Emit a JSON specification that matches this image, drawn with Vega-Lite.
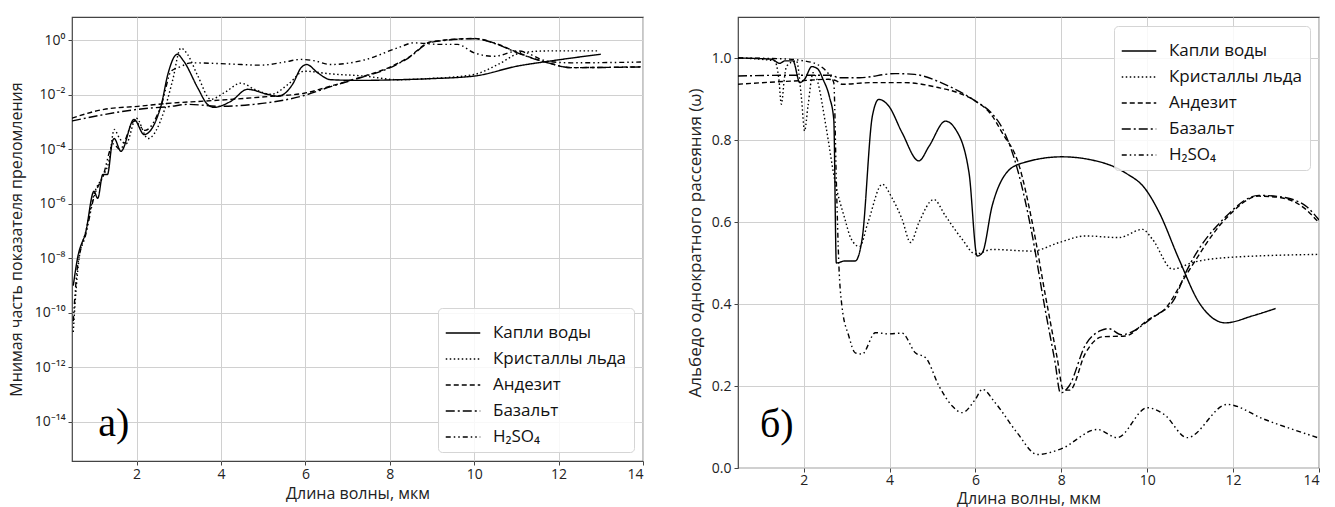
{
  "$schema": "https://vega.github.io/schema/vega-lite/v6.json",
  "padding": {"left": 7, "top": 11, "right": 5, "bottom": 0},
  "background": "white",
  "spacing": 40,
  "config": {
    "font": "Open Sans",
    "view": {"stroke": "#444", "strokeWidth": 1.2},
    "axis": {"grid": true, "gridColor": "#d0d0d0", "gridWidth": 1, "domain": false, "tickColor": "#444", "tickSize": 4, "labelFont": "Open Sans", "labelFontSize": 14, "labelColor": "#222", "titleFont": "Open Sans", "titleFontSize": 17, "titleFontWeight": "normal", "titleColor": "#222", "labelPadding": 3},
    "axisX": {"titlePadding": 4, "titleFontSize": 16, "labelPadding": 2},
    "legend": {"title": null, "symbolType": "stroke", "symbolStrokeColor": "black", "symbolStrokeWidth": 1.5, "symbolSize": 1190, "labelFont": "Open Sans", "labelFontSize": 17, "labelColor": "#111", "labelOffset": 12, "fillColor": "rgba(255,255,255,0.85)", "strokeColor": "#d5d5d5", "cornerRadius": 4, "padding": 7, "offset": 9, "rowPadding": -30}
  },
  "datasets": {
    "left": [
      {"s":"Капли воды","x":0.5,"y":1e-9},{"s":"Капли воды","x":0.6,"y":1e-8},{"s":"Капли воды","x":0.8,"y":1e-7},{"s":"Капли воды","x":0.99,"y":2.9e-6},{"s":"Капли воды","x":1.08,"y":1.6e-6},{"s":"Капли воды","x":1.2,"y":1.2e-5},{"s":"Капли воды","x":1.31,"y":1.2e-5},{"s":"Капли воды","x":1.43,"y":2.0e-4},{"s":"Капли воды","x":1.47,"y":2.5e-4},{"s":"Капли воды","x":1.63,"y":8.5e-5},{"s":"Капли воды","x":1.94,"y":1.26e-3},{"s":"Капли воды","x":2.18,"y":3.5e-4},{"s":"Капли воды","x":2.58,"y":4.0e-3},{"s":"Капли воды","x":2.74,"y":0.056},{"s":"Капли воды","x":2.9,"y":0.26},{"s":"Капли воды","x":2.96,"y":0.31},{"s":"Капли воды","x":3.12,"y":0.17},{"s":"Капли воды","x":3.45,"y":0.018},{"s":"Капли воды","x":3.68,"y":4.5e-3},{"s":"Капли воды","x":3.84,"y":3.5e-3},{"s":"Капли воды","x":4.24,"y":5.9e-3},{"s":"Капли воды","x":4.63,"y":0.016},{"s":"Капли воды","x":5.1,"y":0.0105},{"s":"Капли воды","x":5.35,"y":8.9e-3},{"s":"Капли воды","x":5.7,"y":0.025},{"s":"Капли воды","x":5.9,"y":0.1},{"s":"Капли воды","x":6.03,"y":0.13},{"s":"Капли воды","x":6.3,"y":0.063},{"s":"Капли воды","x":6.6,"y":0.036},{"s":"Капли воды","x":7.3,"y":0.034},{"s":"Капли воды","x":8.2,"y":0.036},{"s":"Капли воды","x":8.9,"y":0.039},{"s":"Капли воды","x":10.0,"y":0.049},{"s":"Капли воды","x":11.04,"y":0.115},{"s":"Капли воды","x":11.75,"y":0.17},{"s":"Капли воды","x":13.0,"y":0.31},
      {"s":"Кристаллы льда","x":0.5,"y":2e-11},{"s":"Кристаллы льда","x":0.55,"y":3.2e-10},{"s":"Кристаллы льда","x":0.63,"y":7.9e-9},{"s":"Кристаллы льда","x":0.8,"y":1e-7},{"s":"Кристаллы льда","x":1.0,"y":2.5e-6},{"s":"Кристаллы льда","x":1.2,"y":1e-5},{"s":"Кристаллы льда","x":1.35,"y":4e-5},{"s":"Кристаллы льда","x":1.47,"y":5.4e-4},{"s":"Кристаллы льда","x":1.6,"y":2.5e-4},{"s":"Кристаллы льда","x":1.75,"y":1.6e-4},{"s":"Кристаллы льда","x":1.99,"y":1.4e-3},{"s":"Кристаллы льда","x":2.27,"y":2.5e-4},{"s":"Кристаллы льда","x":2.65,"y":2.5e-3},{"s":"Кристаллы льда","x":2.85,"y":0.032},{"s":"Кристаллы льда","x":3.05,"y":0.52},{"s":"Кристаллы льда","x":3.2,"y":0.32},{"s":"Кристаллы льда","x":3.45,"y":0.05},{"s":"Кристаллы льда","x":3.76,"y":6.9e-3},{"s":"Кристаллы льда","x":4.1,"y":0.0126},{"s":"Кристаллы льда","x":4.47,"y":0.027},{"s":"Кристаллы льда","x":4.8,"y":0.016},{"s":"Кристаллы льда","x":5.19,"y":0.0105},{"s":"Кристаллы льда","x":5.6,"y":0.025},{"s":"Кристаллы льда","x":5.97,"y":0.074},{"s":"Кристаллы льда","x":6.6,"y":0.059},{"s":"Кристаллы льда","x":7.39,"y":0.049},{"s":"Кристаллы льда","x":8.2,"y":0.036},{"s":"Кристаллы льда","x":8.98,"y":0.04},{"s":"Кристаллы льда","x":10.0,"y":0.056},{"s":"Кристаллы льда","x":10.56,"y":0.13},{"s":"Кристаллы льда","x":11.11,"y":0.35},{"s":"Кристаллы льда","x":11.75,"y":0.41},{"s":"Кристаллы льда","x":12.93,"y":0.41},
      {"s":"Андезит","x":0.47,"y":1.4e-3},{"s":"Андезит","x":1.23,"y":2.95e-3},{"s":"Андезит","x":2.03,"y":3.8e-3},{"s":"Андезит","x":2.82,"y":5e-3},{"s":"Андезит","x":3.6,"y":5.9e-3},{"s":"Андезит","x":5.19,"y":8.9e-3},{"s":"Андезит","x":5.97,"y":0.0115},{"s":"Андезит","x":6.6,"y":0.021},{"s":"Андезит","x":7.39,"y":0.049},{"s":"Андезит","x":7.98,"y":0.1},{"s":"Андезит","x":8.43,"y":0.23},{"s":"Андезит","x":8.98,"y":0.89},{"s":"Андезит","x":10.0,"y":1.17},{"s":"Андезит","x":10.56,"y":0.72},{"s":"Андезит","x":11.04,"y":0.35},{"s":"Андезит","x":11.75,"y":0.15},{"s":"Андезит","x":12.3,"y":0.1},{"s":"Андезит","x":13.95,"y":0.107},
      {"s":"Базальт","x":0.47,"y":1.1e-3},{"s":"Базальт","x":1.23,"y":1.9e-3},{"s":"Базальт","x":2.03,"y":2.95e-3},{"s":"Базальт","x":2.82,"y":3.8e-3},{"s":"Базальт","x":3.22,"y":4.5e-3},{"s":"Базальт","x":4.0,"y":3.8e-3},{"s":"Базальт","x":4.78,"y":4.5e-3},{"s":"Базальт","x":5.97,"y":0.0095},{"s":"Базальт","x":6.6,"y":0.02},{"s":"Базальт","x":7.39,"y":0.047},{"s":"Базальт","x":7.98,"y":0.095},{"s":"Базальт","x":8.43,"y":0.22},{"s":"Базальт","x":8.98,"y":0.85},{"s":"Базальт","x":10.0,"y":1.15},{"s":"Базальт","x":10.56,"y":0.7},{"s":"Базальт","x":11.04,"y":0.34},{"s":"Базальт","x":11.75,"y":0.15},{"s":"Базальт","x":12.3,"y":0.1},{"s":"Базальт","x":13.95,"y":0.105},
      {"s":"H₂SO₄","x":0.5,"y":5e-11},{"s":"H₂SO₄","x":0.6,"y":5e-9},{"s":"H₂SO₄","x":0.8,"y":8e-8},{"s":"H₂SO₄","x":1.0,"y":2e-6},{"s":"H₂SO₄","x":1.2,"y":1e-5},{"s":"H₂SO₄","x":1.45,"y":1.6e-4},{"s":"H₂SO₄","x":1.6,"y":1e-4},{"s":"H₂SO₄","x":1.95,"y":1.1e-3},{"s":"H₂SO₄","x":2.2,"y":5e-4},{"s":"H₂SO₄","x":2.6,"y":5e-3},{"s":"H₂SO₄","x":2.82,"y":0.074},{"s":"H₂SO₄","x":3.05,"y":0.11},{"s":"H₂SO₄","x":3.29,"y":0.15},{"s":"H₂SO₄","x":4.24,"y":0.135},{"s":"H₂SO₄","x":4.95,"y":0.123},{"s":"H₂SO₄","x":5.5,"y":0.16},{"s":"H₂SO₄","x":5.9,"y":0.2},{"s":"H₂SO₄","x":6.2,"y":0.18},{"s":"H₂SO₄","x":6.6,"y":0.13},{"s":"H₂SO₄","x":7.39,"y":0.19},{"s":"H₂SO₄","x":8.2,"y":0.54},{"s":"H₂SO₄","x":8.57,"y":0.81},{"s":"H₂SO₄","x":9.22,"y":0.71},{"s":"H₂SO₄","x":9.6,"y":0.71},{"s":"H₂SO₄","x":10.0,"y":0.35},{"s":"H₂SO₄","x":10.47,"y":0.26},{"s":"H₂SO₄","x":11.04,"y":0.41},{"s":"H₂SO₄","x":11.75,"y":0.17},{"s":"H₂SO₄","x":12.3,"y":0.15},{"s":"H₂SO₄","x":13.95,"y":0.16}
    ],
    "right": [
      {"s":"Капли воды","x":0.47,"y":1.0},{"s":"Капли воды","x":1.25,"y":0.997},{"s":"Капли воды","x":1.44,"y":0.987},{"s":"Капли воды","x":1.56,"y":0.993},{"s":"Капли воды","x":1.75,"y":0.993},{"s":"Капли воды","x":1.91,"y":0.94},{"s":"Капли воды","x":2.02,"y":0.948},{"s":"Капли воды","x":2.19,"y":0.979},{"s":"Капли воды","x":2.33,"y":0.973},{"s":"Капли воды","x":2.45,"y":0.948},{"s":"Капли воды","x":2.6,"y":0.905},{"s":"Капли воды","x":2.7,"y":0.85},{"s":"Капли воды","x":2.76,"y":0.5},{"s":"Капли воды","x":2.96,"y":0.505},{"s":"Капли воды","x":3.2,"y":0.505},{"s":"Капли воды","x":3.36,"y":0.558},{"s":"Капли воды","x":3.6,"y":0.859},{"s":"Капли воды","x":3.75,"y":0.899},{"s":"Капли воды","x":3.98,"y":0.883},{"s":"Капли воды","x":4.29,"y":0.818},{"s":"Капли воды","x":4.68,"y":0.749},{"s":"Капли воды","x":4.92,"y":0.785},{"s":"Капли воды","x":5.3,"y":0.846},{"s":"Капли воды","x":5.53,"y":0.827},{"s":"Капли воды","x":5.85,"y":0.72},{"s":"Капли воды","x":6.04,"y":0.517},{"s":"Капли воды","x":6.16,"y":0.525},{"s":"Капли воды","x":6.39,"y":0.64},{"s":"Капли воды","x":6.62,"y":0.704},{"s":"Капли воды","x":7.01,"y":0.741},{"s":"Капли воды","x":8.02,"y":0.759},{"s":"Капли воды","x":8.72,"y":0.751},{"s":"Капли воды","x":9.49,"y":0.72},{"s":"Капли воды","x":9.96,"y":0.68},{"s":"Капли воды","x":10.28,"y":0.623},{"s":"Капли воды","x":10.74,"y":0.509},{"s":"Капли воды","x":11.21,"y":0.403},{"s":"Капли воды","x":11.82,"y":0.354},{"s":"Капли воды","x":12.45,"y":0.371},{"s":"Капли воды","x":12.99,"y":0.389},
      {"s":"Кристаллы льда","x":0.47,"y":1.0},{"s":"Кристаллы льда","x":1.32,"y":0.993},{"s":"Кристаллы льда","x":1.42,"y":0.95},{"s":"Кристаллы льда","x":1.48,"y":0.887},{"s":"Кристаллы льда","x":1.55,"y":0.95},{"s":"Кристаллы льда","x":1.6,"y":0.98},{"s":"Кристаллы льда","x":1.83,"y":0.993},{"s":"Кристаллы льда","x":1.95,"y":0.9},{"s":"Кристаллы льда","x":2.02,"y":0.822},{"s":"Кристаллы льда","x":2.1,"y":0.883},{"s":"Кристаллы льда","x":2.22,"y":0.964},{"s":"Кристаллы льда","x":2.3,"y":0.95},{"s":"Кристаллы льда","x":2.53,"y":0.826},{"s":"Кристаллы льда","x":2.72,"y":0.704},{"s":"Кристаллы льда","x":2.96,"y":0.607},{"s":"Кристаллы льда","x":3.1,"y":0.56},{"s":"Кристаллы льда","x":3.3,"y":0.54},{"s":"Кристаллы льда","x":3.5,"y":0.6},{"s":"Кристаллы льда","x":3.83,"y":0.692},{"s":"Кристаллы льда","x":4.05,"y":0.66},{"s":"Кристаллы льда","x":4.29,"y":0.607},{"s":"Кристаллы льда","x":4.49,"y":0.55},{"s":"Кристаллы льда","x":4.68,"y":0.598},{"s":"Кристаллы льда","x":5.03,"y":0.655},{"s":"Кристаллы льда","x":5.3,"y":0.615},{"s":"Кристаллы льда","x":5.69,"y":0.558},{"s":"Кристаллы льда","x":6.0,"y":0.522},{"s":"Кристаллы льда","x":6.39,"y":0.533},{"s":"Кристаллы льда","x":7.32,"y":0.529},{"s":"Кристаллы льда","x":7.95,"y":0.55},{"s":"Кристаллы льда","x":8.56,"y":0.566},{"s":"Кристаллы льда","x":9.34,"y":0.562},{"s":"Кристаллы льда","x":9.89,"y":0.582},{"s":"Кристаллы льда","x":10.12,"y":0.558},{"s":"Кристаллы льда","x":10.59,"y":0.485},{"s":"Кристаллы льда","x":11.05,"y":0.501},{"s":"Кристаллы льда","x":11.82,"y":0.513},{"s":"Кристаллы льда","x":14.0,"y":0.521},
      {"s":"Андезит","x":0.47,"y":0.936},{"s":"Андезит","x":1.4,"y":0.942},{"s":"Андезит","x":2.0,"y":0.945},{"s":"Андезит","x":2.57,"y":0.948},{"s":"Андезит","x":2.75,"y":0.945},{"s":"Андезит","x":2.9,"y":0.936},{"s":"Андезит","x":3.58,"y":0.94},{"s":"Андезит","x":4.35,"y":0.94},{"s":"Андезит","x":5.13,"y":0.928},{"s":"Андезит","x":5.6,"y":0.915},{"s":"Андезит","x":6.0,"y":0.895},{"s":"Андезит","x":6.38,"y":0.86},{"s":"Андезит","x":6.62,"y":0.818},{"s":"Андезит","x":7.01,"y":0.74},{"s":"Андезит","x":7.32,"y":0.6},{"s":"Андезит","x":7.63,"y":0.42},{"s":"Андезит","x":7.9,"y":0.27},{"s":"Андезит","x":8.05,"y":0.19},{"s":"Андезит","x":8.2,"y":0.19},{"s":"Андезит","x":8.56,"y":0.28},{"s":"Андезит","x":8.95,"y":0.32},{"s":"Андезит","x":9.49,"y":0.322},{"s":"Андезит","x":10.0,"y":0.36},{"s":"Андезит","x":10.43,"y":0.39},{"s":"Андезит","x":10.89,"y":0.468},{"s":"Андезит","x":11.82,"y":0.607},{"s":"Андезит","x":12.6,"y":0.663},{"s":"Андезит","x":13.07,"y":0.66},{"s":"Андезит","x":13.68,"y":0.632},{"s":"Андезит","x":14.0,"y":0.598},
      {"s":"Базальт","x":0.47,"y":0.956},{"s":"Базальт","x":1.64,"y":0.958},{"s":"Базальт","x":2.65,"y":0.958},{"s":"Базальт","x":2.8,"y":0.952},{"s":"Базальт","x":3.3,"y":0.952},{"s":"Базальт","x":4.13,"y":0.962},{"s":"Базальт","x":4.58,"y":0.96},{"s":"Базальт","x":5.3,"y":0.935},{"s":"Базальт","x":6.0,"y":0.895},{"s":"Базальт","x":6.38,"y":0.865},{"s":"Базальт","x":6.62,"y":0.83},{"s":"Базальт","x":7.0,"y":0.72},{"s":"Базальт","x":7.3,"y":0.58},{"s":"Базальт","x":7.6,"y":0.4},{"s":"Базальт","x":7.85,"y":0.26},{"s":"Базальт","x":7.98,"y":0.183},{"s":"Базальт","x":8.18,"y":0.2},{"s":"Базальт","x":8.56,"y":0.3},{"s":"Базальт","x":8.91,"y":0.335},{"s":"Базальт","x":9.1,"y":0.34},{"s":"Базальт","x":9.4,"y":0.325},{"s":"Базальт","x":10.16,"y":0.37},{"s":"Базальт","x":10.62,"y":0.41},{"s":"Базальт","x":10.89,"y":0.475},{"s":"Базальт","x":11.82,"y":0.612},{"s":"Базальт","x":12.6,"y":0.665},{"s":"Базальт","x":13.07,"y":0.662},{"s":"Базальт","x":13.68,"y":0.64},{"s":"Базальт","x":14.0,"y":0.605},
      {"s":"H₂SO₄","x":0.47,"y":1.0},{"s":"H₂SO₄","x":1.5,"y":0.998},{"s":"H₂SO₄","x":2.0,"y":0.993},{"s":"H₂SO₄","x":2.3,"y":0.985},{"s":"H₂SO₄","x":2.55,"y":0.965},{"s":"H₂SO₄","x":2.7,"y":0.94},{"s":"H₂SO₄","x":2.76,"y":0.7},{"s":"H₂SO₄","x":2.82,"y":0.493},{"s":"H₂SO₄","x":2.89,"y":0.395},{"s":"H₂SO₄","x":3.05,"y":0.322},{"s":"H₂SO₄","x":3.2,"y":0.281},{"s":"H₂SO₄","x":3.36,"y":0.278},{"s":"H₂SO₄","x":3.67,"y":0.33},{"s":"H₂SO₄","x":3.98,"y":0.327},{"s":"H₂SO₄","x":4.29,"y":0.329},{"s":"H₂SO₄","x":4.6,"y":0.281},{"s":"H₂SO₄","x":4.84,"y":0.269},{"s":"H₂SO₄","x":5.15,"y":0.2},{"s":"H₂SO₄","x":5.46,"y":0.151},{"s":"H₂SO₄","x":5.69,"y":0.135},{"s":"H₂SO₄","x":6.0,"y":0.168},{"s":"H₂SO₄","x":6.16,"y":0.192},{"s":"H₂SO₄","x":6.46,"y":0.159},{"s":"H₂SO₄","x":6.97,"y":0.086},{"s":"H₂SO₄","x":7.44,"y":0.033},{"s":"H₂SO₄","x":7.98,"y":0.046},{"s":"H₂SO₄","x":8.84,"y":0.094},{"s":"H₂SO₄","x":9.3,"y":0.074},{"s":"H₂SO₄","x":10.0,"y":0.147},{"s":"H₂SO₄","x":10.39,"y":0.131},{"s":"H₂SO₄","x":10.93,"y":0.074},{"s":"H₂SO₄","x":11.86,"y":0.155},{"s":"H₂SO₄","x":12.72,"y":0.119},{"s":"H₂SO₄","x":13.97,"y":0.074}
    ]
  },
  "hconcat": [
    {
      "width": 571,
      "height": 444,
      "title": {"text": " ", "fontSize": 1, "offset": 4},
      "layer": [
        {
          "data": {"name": "left"},
          "mark": {"type": "line", "interpolate": "monotone", "stroke": "black", "strokeWidth": 1.4, "clip": true},
          "encoding": {
            "x": {"field": "x", "type": "quantitative", "scale": {"domain": [0.47, 14], "nice": false, "zero": false}, "axis": {"values": [2, 4, 6, 8, 10, 12, 14], "format": "d", "title": "Длина волны, мкм"}},
            "y": {"field": "y", "type": "quantitative", "scale": {"type": "log", "domain": [3.7e-16, 7.2], "nice": false}, "axis": {"values": [1e-14, 1e-12, 1e-10, 1e-8, 1e-6, 1e-4, 1e-2, 1], "labelExpr": "round(log(datum.value)/LN10) == 0 ? '10⁰' : '10⁻' + replace(replace(replace(replace(replace(replace(toString(-round(log(datum.value)/LN10)),'1','¹'),'2','²'),'4','⁴'),'6','⁶'),'8','⁸'),'0','⁰')", "title": "Мнимая часть показателя преломления", "titleFontSize": 16, "titlePadding": 10}},
            "strokeDash": {"field": "s", "type": "nominal", "scale": {"domain": ["Капли воды", "Кристаллы льда", "Андезит", "Базальт", "H₂SO₄"], "range": [[1, 0], [1.5, 2.5], [5, 3], [9, 3, 2, 3], [5, 3, 1.5, 3, 1.5, 3]]}, "legend": {"orient": "bottom-right"}}
          }
        },
        {
          "data": {"values": [{"x": 1.09, "y": 8.5e-15, "t": "а)"}]},
          "mark": {"type": "text", "font": "Liberation Serif", "fontSize": 40, "align": "left", "baseline": "middle", "color": "black"},
          "encoding": {
            "x": {"field": "x", "type": "quantitative"},
            "y": {"field": "y", "type": "quantitative"},
            "text": {"field": "t"}
          }
        }
      ]
    },
    {
      "width": 581,
      "height": 451,
      "layer": [
        {
          "data": {"name": "right"},
          "mark": {"type": "line", "interpolate": "monotone", "stroke": "black", "strokeWidth": 1.4, "clip": true},
          "encoding": {
            "x": {"field": "x", "type": "quantitative", "scale": {"domain": [0.47, 14], "nice": false, "zero": false}, "axis": {"values": [2, 4, 6, 8, 10, 12, 14], "format": "d", "title": "Длина волны, мкм", "labelPadding": 1, "titlePadding": 3}},
            "y": {"field": "y", "type": "quantitative", "scale": {"domain": [0, 1.1], "nice": false}, "axis": {"values": [0, 0.2, 0.4, 0.6, 0.8, 1.0], "format": ".1f", "title": "Альбедо однократного рассеяния (ω)", "titlePadding": 7}},
            "strokeDash": {"field": "s", "type": "nominal", "scale": {"domain": ["Капли воды", "Кристаллы льда", "Андезит", "Базальт", "H₂SO₄"], "range": [[1, 0], [1.5, 2.5], [5, 3], [9, 3, 2, 3], [5, 3, 1.5, 3, 1.5, 3]]}, "legend": {"orient": "top-right"}}
          }
        },
        {
          "data": {"values": [{"x": 0.98, "y": 0.105, "t": "б)"}]},
          "mark": {"type": "text", "font": "Liberation Serif", "fontSize": 40, "align": "left", "baseline": "middle", "color": "black"},
          "encoding": {
            "x": {"field": "x", "type": "quantitative"},
            "y": {"field": "y", "type": "quantitative"},
            "text": {"field": "t"}
          }
        }
      ]
    }
  ],
  "resolve": {"scale": {"x": "independent", "y": "independent", "strokeDash": "independent"}, "legend": {"strokeDash": "independent"}}
}
